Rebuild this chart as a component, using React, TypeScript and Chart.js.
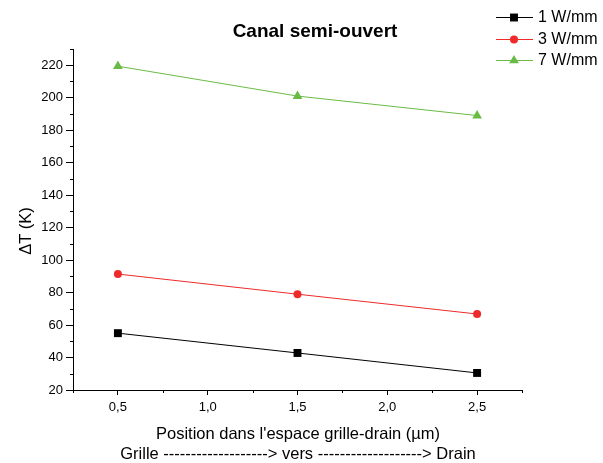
import React, { useEffect, useRef } from "react";
import { Chart, registerables } from "chart.js";

Chart.register(...registerables);

const positions = [0.5, 1.5, 2.5];
const series1W = [55, 42.8, 30.5];
const series3W = [91.4, 79, 66.8];
const series7W = [219.4, 201, 189];
const seriesLabels = ["1 W/mm", "3 W/mm", "7 W/mm"];
const seriesColors = ["#000000", "#ee2a2a", "#6abb45"];
const seriesMarkers = ["rect", "circle", "triangle"];
const xMajorTicks = [0.5, 1.0, 1.5, 2.0, 2.5];
const xMinorTicks = [0.25, 0.75, 1.25, 1.75, 2.25, 2.75];
const yMajorTicks = [20, 40, 60, 80, 100, 120, 140, 160, 180, 200, 220];
const yMinorTicks = [30, 50, 70, 90, 110, 130, 150, 170, 190, 210, 230];
const titleText = "Canal semi-ouvert";
const yTitle = "\u0394T (K)";
const xTitleLines = ["Position dans l'espace grille-drain (\u00b5m)", "Grille -------------------> vers -------------------> Drain"];

const FONT = "Arial, 'Liberation Sans', sans-serif";

function drawMarker(ctx: any, style: string, x: number, y: number, r: number) {
  ctx.beginPath();
  if (style === "rect") {
    const s = Math.SQRT1_2 * r;
    ctx.rect(x - s, y - s, 2 * s, 2 * s);
  } else if (style === "circle") {
    ctx.arc(x, y, r, 0, Math.PI * 2);
  } else {
    let rad = 0;
    ctx.moveTo(x + Math.sin(rad) * r, y - Math.cos(rad) * r);
    rad += (2 * Math.PI) / 3;
    ctx.lineTo(x + Math.sin(rad) * r, y - Math.cos(rad) * r);
    rad += (2 * Math.PI) / 3;
    ctx.lineTo(x + Math.sin(rad) * r, y - Math.cos(rad) * r);
    ctx.closePath();
  }
  ctx.fill();
}

const decor = {
  id: "decor",
  afterDraw(chart: any) {
    const ctx = chart.ctx;
    const xs = chart.scales.x;
    const ys = chart.scales.y;
    const area = chart.chartArea;
    ctx.save();
    ctx.strokeStyle = "#000";
    ctx.lineWidth = 1;
    ctx.beginPath();
    yMinorTicks.forEach((v) => {
      const y = Math.round(ys.getPixelForValue(v)) + 0.5;
      ctx.moveTo(area.left - 3, y);
      ctx.lineTo(area.left, y);
    });
    xMinorTicks.forEach((v) => {
      const x = Math.round(xs.getPixelForValue(v)) + 0.5;
      ctx.moveTo(x, area.bottom);
      ctx.lineTo(x, area.bottom + 3);
    });
    ctx.stroke();

    ctx.fillStyle = "#000";
    ctx.font = `bold 19px ${FONT}`;
    ctx.textAlign = "center";
    ctx.textBaseline = "middle";
    ctx.fillText(titleText, 315, 32);

    ctx.font = `16.5px ${FONT}`;
    xTitleLines.forEach((t, i) => ctx.fillText(t, 298, 434 + i * 20));
    ctx.save();
    ctx.translate(26, 231);
    ctx.rotate(-Math.PI / 2);
    ctx.fillText(yTitle, 0, 0);
    ctx.restore();

    const rows = [17, 39, 60];
    chart.data.datasets.forEach((ds: any, i: number) => {
      const y = rows[i];
      ctx.strokeStyle = ds.borderColor;
      ctx.lineWidth = 1;
      ctx.beginPath();
      ctx.moveTo(496, y + 0.5);
      ctx.lineTo(533, y + 0.5);
      ctx.stroke();
      ctx.fillStyle = ds.backgroundColor;
      drawMarker(ctx, ds.pointStyle, 514, y + 0.5, ds.pointRadius);
      ctx.fillStyle = "#000";
      ctx.textAlign = "left";
      ctx.textBaseline = "middle";
      ctx.font = `16px ${FONT}`;
      ctx.fillText(ds.label, 538, y + 1);
    });
    ctx.restore();
  },
};

const radii = [5.6, 4, 5.6];

export default function App() {
  const ref = useRef<HTMLCanvasElement>(null);
  useEffect(() => {
    if (!ref.current) return;
    const values = [series1W, series3W, series7W];
    const chart = new Chart(ref.current, {
      type: "line",
      data: {
        datasets: values.map((vals, i) => ({
          label: seriesLabels[i],
          data: positions.map((p, j) => ({ x: p, y: vals[j] })),
          borderColor: seriesColors[i],
          backgroundColor: seriesColors[i],
          borderWidth: 1,
          pointStyle: seriesMarkers[i] as any,
          pointRadius: radii[i],
          pointBorderWidth: 0,
          tension: 0,
        })),
      },
      options: {
        animation: false,
        responsive: false,
        events: [],
        layout: { padding: { left: 0, top: 49, right: 81, bottom: 0 } },
        plugins: { legend: { display: false }, title: { display: false }, tooltip: { enabled: false } },
        scales: {
          x: {
            type: "linear",
            min: 0.25,
            max: 2.75,
            afterFit: (s: any) => { s.height = 73; },
            afterBuildTicks: (s: any) => { s.ticks = xMajorTicks.map((v) => ({ value: v })); },
            ticks: {
              color: "#000",
              font: { family: FONT, size: 13 },
              padding: 5,
              maxRotation: 0,
              autoSkip: false,
              callback: (v: any) => Number(v).toFixed(1).replace(".", ","),
            },
            grid: { drawOnChartArea: false, drawTicks: true, tickLength: 5, color: "#000" },
            border: { display: true, color: "#000", width: 1 },
          },
          y: {
            type: "linear",
            min: 20,
            max: 230,
            afterFit: (s: any) => { s.width = 73; },
            afterBuildTicks: (s: any) => { s.ticks = yMajorTicks.map((v) => ({ value: v })); },
            ticks: {
              color: "#000",
              font: { family: FONT, size: 13 },
              padding: 3,
              autoSkip: false,
              callback: (v: any) => String(v),
            },
            grid: { drawOnChartArea: false, drawTicks: true, tickLength: 7, color: "#000" },
            border: { display: true, color: "#000", width: 1 },
          },
        },
      },
      plugins: [decor],
    });
    return () => chart.destroy();
  }, []);
  return (
    <div style={{ position: "fixed", left: 0, top: 0, width: 603, height: 463, background: "#fff" }}>
      <canvas ref={ref} width={603} height={463} style={{ display: "block" }} />
    </div>
  );
}
